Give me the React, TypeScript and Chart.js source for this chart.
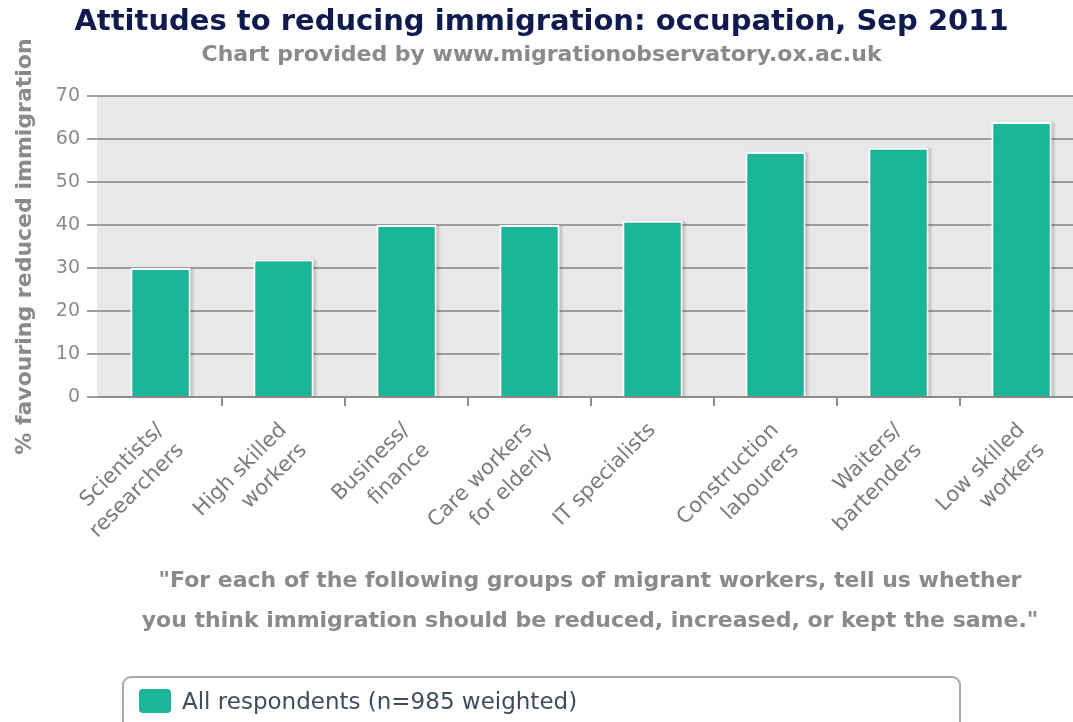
import React, { useEffect, useRef } from "react";
import { Chart, registerables } from "chart.js";

Chart.register(...registerables);

const categories: string[][] = [
  ["Scientists/", "researchers"],
  ["High skilled", "workers"],
  ["Business/", "finance"],
  ["Care workers", "for elderly"],
  ["IT specialists"],
  ["Construction", "labourers"],
  ["Waiters/", "bartenders"],
  ["Low skilled", "workers"],
];
const values: number[] = [30, 32, 40, 40, 41, 57, 58, 64];
const seriesLabel = "All respondents (n=985 weighted)";
const titleText = "Attitudes to reducing immigration: occupation, Sep 2011";
const subtitleText = "Chart provided by www.migrationobservatory.ox.ac.uk";
const yAxisTitle = "% favouring reduced immigration";
const captionLines: string[] = [
  "\"For each of the following groups of migrant workers, tell us whether",
  "you think immigration should be reduced, increased, or kept the same.\"",
];
const yMin = 0;
const yMax = 70;
const yStep = 10;

const FONT = "'DejaVu Sans', sans-serif";
const BAR = "#1bb697";

const bgPlugin = {
  id: "plotBg",
  beforeDraw(chart: any) {
    const { ctx, chartArea } = chart;
    ctx.save();
    ctx.fillStyle = "#e8e8e8";
    ctx.fillRect(chartArea.left - 2, chartArea.top, chartArea.right - chartArea.left + 2, chartArea.bottom - chartArea.top);
    ctx.restore();
  },
};

const shadowPlugin = {
  id: "barShadow",
  beforeDatasetsDraw(chart: any) {
    const { ctx } = chart;
    const meta = chart.getDatasetMeta(0);
    ctx.save();
    meta.data.forEach((el: any) => {
      const { x, y, base, width } = el.getProps(["x", "y", "base", "width"], true);
      for (let k = 1; k <= 4; k++) {
        ctx.fillStyle = "rgba(0,0,0,0.045)";
        ctx.fillRect(x - width / 2 + k, y + k * 0.5 - 1, width, base - y);
      }
    });
    ctx.restore();
  },
};

export default function App() {
  const ref = useRef<HTMLCanvasElement | null>(null);

  useEffect(() => {
    if (!ref.current) return;
    const chart = new Chart(ref.current, {
      type: "bar",
      data: {
        labels: categories,
        datasets: [
          {
            label: seriesLabel,
            data: values,
            backgroundColor: BAR,
            borderColor: "#ffffff",
            borderWidth: 2,
            barPercentage: 0.49,
            categoryPercentage: 1,
          },
        ],
      },
      options: {
        responsive: false,
        animation: false,
        devicePixelRatio: 1,
        layout: { padding: { left: 0, right: 0, top: 0, bottom: 0 } },
        plugins: {
          legend: { display: false },
          tooltip: { enabled: false },
          title: {
            display: true,
            text: titleText,
            color: "#0f1a4e",
            font: { family: FONT, size: 29, weight: "bold" },
            padding: { top: 5, bottom: 0 },
          },
          subtitle: {
            display: true,
            text: subtitleText,
            color: "#8a8a8a",
            font: { family: FONT, size: 22, weight: "bold" },
            padding: { top: 2, bottom: 28 },
          },
        },
        scales: {
          x: {
            afterFit(scale: any) {
              scale.height = 722 - 397;
            },
            grid: {
              offset: true,
              drawOnChartArea: false,
              drawTicks: true,
              tickLength: 9,
              lineWidth: 2,
              color: (c: any) => (c.index === 0 ? "rgba(0,0,0,0)" : "#8c8c8c"),
            },
            border: { display: true, color: "#8c8c8c", width: 2 },
            ticks: {
              autoSkip: false,
              maxRotation: 45,
              minRotation: 45,
              padding: 11,
              color: "#7a7a7a",
              font: { family: FONT, size: 21, lineHeight: 1.35 },
            },
          },
          y: {
            min: yMin,
            max: yMax,
            afterFit(scale: any) {
              scale.width = 99;
            },
            ticks: {
              stepSize: yStep,
              padding: 7,
              color: "#8a8a8a",
              font: { family: FONT, size: 19 },
            },
            grid: {
              color: "#9c9c9c",
              lineWidth: 2,
              tickLength: 12,
              drawTicks: true,
            },
            border: { display: false },
            title: {
              display: true,
              text: yAxisTitle,
              color: "#8a8a8a",
              font: { family: FONT, size: 22, weight: "bold" },
              padding: { top: 12, bottom: 0 },
            },
          },
        },
      },
      plugins: [bgPlugin, shadowPlugin],
    });
    return () => chart.destroy();
  }, []);

  return (
    <div
      style={{
        position: "fixed",
        left: 0,
        top: 0,
        width: 1073,
        height: 722,
        overflow: "hidden",
        background: "#ffffff",
      }}
    >
      <canvas ref={ref} width={1083} height={722} style={{ position: "absolute", left: 0, top: 0 }} />
      <div
        style={{
          position: "absolute",
          left: 590,
          top: 560,
          transform: "translateX(-50%)",
          whiteSpace: "nowrap",
          textAlign: "center",
          fontFamily: FONT,
          fontWeight: "bold",
          fontSize: 22,
          lineHeight: "40px",
          color: "#8a8a8a",
        }}
      >
        {captionLines.map((l, i) => (
          <div key={i}>{l}</div>
        ))}
      </div>
      <div
        style={{
          position: "absolute",
          left: 122,
          top: 676,
          width: 839,
          height: 70,
          border: "2px solid #a8a8a8",
          borderRadius: 9,
          boxSizing: "border-box",
        }}
      >
        <div
          style={{
            position: "absolute",
            left: 15,
            top: 11,
            width: 32,
            height: 24,
            borderRadius: 4,
            background: BAR,
          }}
        />
        <div
          style={{
            position: "absolute",
            left: 58,
            top: 8,
            fontFamily: FONT,
            fontSize: 23,
            lineHeight: "30px",
            color: "#3e4c5e",
            whiteSpace: "nowrap",
          }}
        >
          {seriesLabel}
        </div>
      </div>
    </div>
  );
}
